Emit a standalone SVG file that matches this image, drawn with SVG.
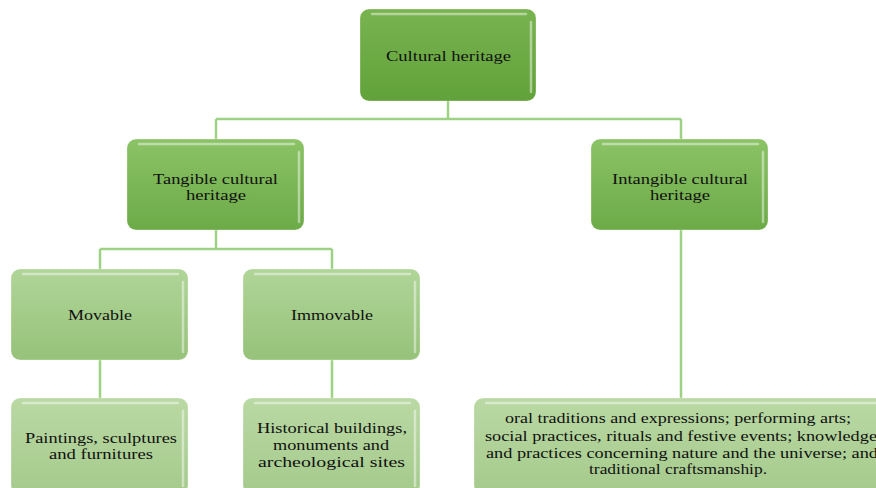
<svg xmlns="http://www.w3.org/2000/svg" width="876" height="488" viewBox="0 0 876 488">
<defs>
<linearGradient id="gDark" x1="0" y1="0" x2="0" y2="1">
<stop offset="0" stop-color="#78b350"/><stop offset="1" stop-color="#62a23a"/>
</linearGradient>
<linearGradient id="gMid" x1="0" y1="0" x2="0" y2="1">
<stop offset="0" stop-color="#8bc366"/><stop offset="1" stop-color="#6caa47"/>
</linearGradient>
<linearGradient id="gLight" x1="0" y1="0" x2="0" y2="1">
<stop offset="0" stop-color="#b0d598"/><stop offset="1" stop-color="#96c27a"/>
</linearGradient>
<linearGradient id="gLeaf" x1="0" y1="0" x2="0" y2="1">
<stop offset="0" stop-color="#bad9a4"/><stop offset="1" stop-color="#a5ca8c"/>
</linearGradient>
</defs>
<style>
.box{stroke:#ffffff;stroke-opacity:0.3;stroke-width:1}
.hl{fill:none;stroke:#ffffff;stroke-opacity:0.45;stroke-width:2.5;stroke-linecap:round}
.conn{fill:none;stroke:#9fd184;stroke-width:2.5}
.t{font-size:15px;fill:#111}
</style>
<g id="connectors">
<path class="conn" d="M448 101V119M216 119H681M216 119V139M681 119V139"/>
<path class="conn" d="M216 230V249M100 249H332M100 249V269M332 249V269"/>
<path class="conn" d="M100 360V398M332 360V398M681 230V398"/>
</g>
<g font-family="Liberation Serif, DejaVu Serif, serif">
<g id="cultural-heritage">
<rect class="box" x="360" y="9" width="176" height="92" rx="9" fill="url(#gDark)"/>
<path class="hl" d="M372 14H526M531 22V92"/>
<text class="t" x="386" y="61" textLength="125" lengthAdjust="spacingAndGlyphs">Cultural heritage</text>
</g>
<g id="tangible">
<rect class="box" x="127" y="139" width="177" height="91" rx="9" fill="url(#gMid)"/>
<path class="hl" d="M139 144H294M299 152V222"/>
<text class="t" x="153" y="184" textLength="125" lengthAdjust="spacingAndGlyphs">Tangible cultural</text>
<text class="t" x="186" y="200" textLength="60" lengthAdjust="spacingAndGlyphs">heritage</text>
</g>
<g id="intangible">
<rect class="box" x="591" y="139" width="177" height="91" rx="9" fill="url(#gMid)"/>
<path class="hl" d="M603 144H758M763 152V222"/>
<text class="t" x="612" y="184" textLength="136" lengthAdjust="spacingAndGlyphs">Intangible cultural</text>
<text class="t" x="650" y="200" textLength="60" lengthAdjust="spacingAndGlyphs">heritage</text>
</g>
<g id="movable">
<rect class="box" x="11" y="269" width="177" height="91" rx="9" fill="url(#gLight)"/>
<path class="hl" d="M23 274H178M183 282V352"/>
<text class="t" x="68" y="320" textLength="64" lengthAdjust="spacingAndGlyphs">Movable</text>
</g>
<g id="immovable">
<rect class="box" x="243" y="269" width="177" height="91" rx="9" fill="url(#gLight)"/>
<path class="hl" d="M255 274H410M415 282V352"/>
<text class="t" x="291" y="320" textLength="82" lengthAdjust="spacingAndGlyphs">Immovable</text>
</g>
<g id="paintings">
<rect class="box" x="11" y="398" width="177" height="96" rx="9" fill="url(#gLeaf)"/>
<path class="hl" d="M23 403H178M183 411V486"/>
<text class="t" x="25" y="443" textLength="152" lengthAdjust="spacingAndGlyphs">Paintings, sculptures</text>
<text class="t" x="49" y="459" textLength="104" lengthAdjust="spacingAndGlyphs">and furnitures</text>
</g>
<g id="historical">
<rect class="box" x="243" y="398" width="177" height="96" rx="9" fill="url(#gLeaf)"/>
<path class="hl" d="M255 403H410M415 411V486"/>
<text class="t" x="257" y="433" textLength="150" lengthAdjust="spacingAndGlyphs">Historical buildings,</text>
<text class="t" x="273" y="450" textLength="116" lengthAdjust="spacingAndGlyphs">monuments and</text>
<text class="t" x="258" y="467" textLength="147" lengthAdjust="spacingAndGlyphs">archeological sites</text>
</g>
<g id="intangible-items">
<rect class="box" x="474" y="398" width="420" height="96" rx="9" fill="url(#gLeaf)"/>
<path class="hl" d="M486 403H876"/>
<text class="t" x="505" y="423" textLength="346" lengthAdjust="spacingAndGlyphs">oral traditions and expressions; performing arts;</text>
<text class="t" x="485" y="441" textLength="392" lengthAdjust="spacingAndGlyphs">social practices, rituals and festive events; knowledge</text>
<text class="t" x="486" y="458" textLength="392" lengthAdjust="spacingAndGlyphs">and practices concerning nature and the universe; and</text>
<text class="t" x="589" y="474" textLength="178" lengthAdjust="spacingAndGlyphs">traditional craftsmanship.</text>
</g>
</g>
</svg>
